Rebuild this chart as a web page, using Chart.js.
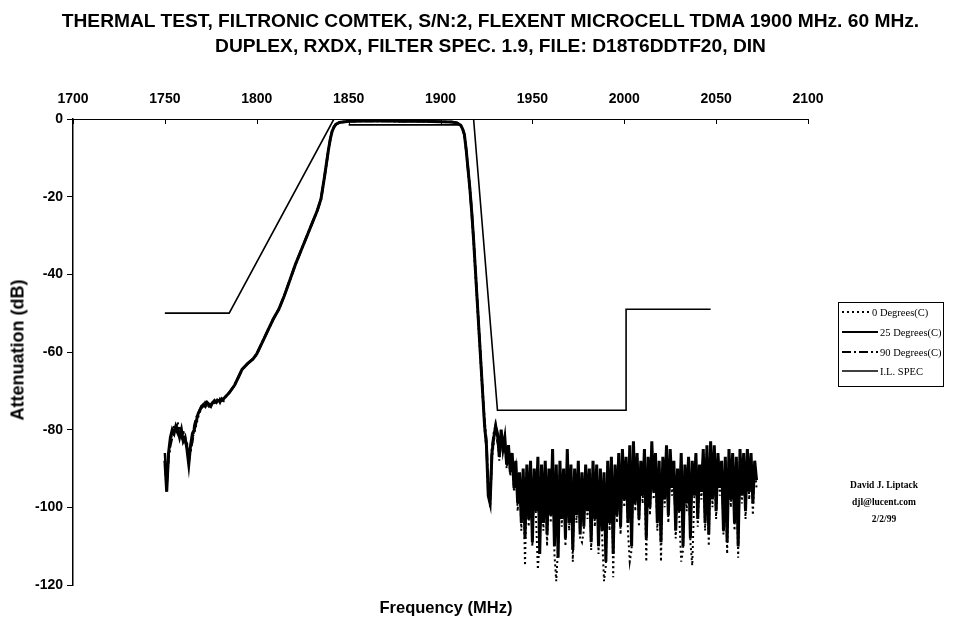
<!DOCTYPE html>
<html><head><meta charset="utf-8">
<script src="https://cdn.jsdelivr.net/npm/chart.js@4.4.0/dist/chart.umd.min.js"></script>
<style>
body{margin:0;background:#fff;}
#wrap{position:relative;width:975px;height:625px;overflow:hidden;}
canvas{position:absolute;left:0;top:0;}
.t{position:absolute;white-space:nowrap;color:#000;line-height:1;}
.title{left:0;width:981px;text-align:center;font:bold 19.2px "Liberation Sans",Arial,sans-serif;}
.axt{font:bold 17px "Liberation Sans",Arial,sans-serif;}
.leg{font:10.5px "Liberation Serif","Times New Roman",serif;}
.note{width:120px;text-align:center;font:bold 9.5px "Liberation Serif","Times New Roman",serif;}
</style></head>
<body>
<div id="wrap">
<canvas id="c" width="975" height="625"></canvas>
<div class="t title" style="top:10px">THERMAL TEST, FILTRONIC COMTEK, S/N:2, FLEXENT MICROCELL TDMA 1900 MHz. 60 MHz.</div>
<div class="t title" style="top:35px">DUPLEX, RXDX, FILTER SPEC. 1.9, FILE: D18T6DDTF20, DIN</div>
<div class="t axt" style="left:18px;top:350px;font-size:18px;transform:translate(-50%,-50%) rotate(-90deg);">Attenuation (dB)</div>
<div class="t axt" style="left:446px;top:607px;font-size:16.5px;transform:translate(-50%,-50%);">Frequency (MHz)</div>
<div class="t leg" style="left:872px;top:307px">0 Degrees(C)</div>
<div class="t leg" style="left:880px;top:327px">25 Degrees(C)</div>
<div class="t leg" style="left:880px;top:347px">90 Degrees(C)</div>
<div class="t leg" style="left:880px;top:366px">I.L. SPEC</div>
<div class="t note" style="left:824px;top:480px">David J. Liptack</div>
<div class="t note" style="left:824px;top:497px">djl@lucent.com</div>
<div class="t note" style="left:824px;top:514px">2/2/99</div>
</div>
<script>
// ---- data ----
const seriesNames = ["0 Degrees(C)", "25 Degrees(C)", "90 Degrees(C)", "I.L. SPEC"];

const freqSkirt = [1750,1751,1752,1753,1754,1755,1756,1757,1758,1759,1760,1761,1762,1763,1764,1765,1766,1767,1768,1769,1770,1771,1772,1773,1774,1775,1776,1777,1778,1779,1780,1781,1782,1783,1784,1785,
 1788,1790,1792,1795,1798,1800,1803,1806,1809,1812,1815,1818,1821,1824,1827,1830,1833,1835,1837,1839,1840,1841,1842,1843,1845,1848,1850,1860,1870,1880,1890,1900,1906,1909,1911,1912,1913,1914,1915,1916,1917,1918,1919,1920,1921,1922,1923,1924];

const skirt25 = [-88,-96,-86,-82,-80,-81,-79,-80,-82,-80,-83,-82,-85,-89,-84,-81,-80,-78,-76,-75,-74,-73.5,-74,-73,-73.5,-74,-73,-72.5,-73,-72.5,-72.5,-72.5,-72,-71.5,-71,-70.5,
 -68.5,-66.5,-64.5,-63,-61.8,-60.5,-57.5,-54.5,-51.5,-49,-45.5,-41.5,-37.5,-34,-30.5,-27,-23.5,-20.5,-14.5,-8,-5.2,-3.2,-2.1,-1.4,-0.9,-0.7,-0.6,-0.5,-0.5,-0.6,-0.6,-0.7,-0.8,-1.0,-1.6,-2.5,-4,-8,-13,-18,-24,-31,-39,-47,-55,-63,-71,-79];

const skirt0 = [-90,-95,-88,-83,-81,-79,-80,-78,-81,-82,-80,-84,-83,-87,-86,-82,-81,-79,-77,-75.5,-74.5,-74,-73.5,-74,-73,-74,-73.5,-73,-72.5,-73,-72,-72.5,-72,-71.5,-71,-70.5,
 -68.5,-66.5,-64.5,-63,-61.8,-60.5,-57.5,-54.5,-51.5,-49,-45.5,-41.5,-37.5,-34,-30.5,-27,-23.5,-20.5,-14.5,-8,-5.2,-3.2,-2.1,-1.4,-0.9,-0.7,-0.6,-0.5,-0.5,-0.6,-0.6,-0.7,-0.8,-1.0,-1.6,-2.5,-4,-8,-13,-18,-24,-31,-39,-47,-55,-63,-71,-80];

const skirt90 = [-86,-94,-87,-84,-82,-80,-80,-81,-79,-81,-81,-82,-84,-88,-85,-83,-79,-77,-76,-75,-74,-74,-73,-73.5,-74,-73.5,-73,-73,-72.5,-72,-73,-72,-72.5,-71.5,-71,-70.5,
 -68.5,-66.5,-64.5,-63,-61.8,-60.5,-57.5,-54.5,-51.5,-49,-45.5,-41.5,-37.5,-34,-30.5,-27,-23.5,-20.5,-14.5,-8,-5.2,-3.2,-2.1,-1.4,-0.9,-0.7,-0.6,-0.5,-0.5,-0.6,-0.6,-0.7,-0.8,-1.0,-1.6,-2.5,-4,-8,-13,-18,-24,-31,-39,-47,-55,-63,-71,-78];

const freqStop = [1925,1926,1927,1928,1929,1930,1931,1932,1933,1934,1935,1936,1937,1938,1939,1940,1941,1942,1943,1944,1945,1946,1947,1948,1949,
 1950,1951,1952,1953,1954,1955,1956,1957,1958,1959,1960,1961,1962,1963,1964,1965,1966,1967,1968,1969,1970,1971,1972,1973,1974,
 1975,1976,1977,1978,1979,1980,1981,1982,1983,1984,1985,1986,1987,1988,1989,1990,1991,1992,1993,1994,1995,1996,1997,1998,1999,
 2000,2001,2002,2003,2004,2005,2006,2007,2008,2009,2010,2011,2012,2013,2014,2015,2016,2017,2018,2019,2020,2021,2022,2023,2024,
 2025,2026,2027,2028,2029,2030,2031,2032,2033,2034,2035,2036,2037,2038,2039,2040,2041,2042,2043,2044,2045,2046,2047,2048,2049,
 2050,2051,2052,2053,2054,2055,2056,2057,2058,2059,2060,2061,2062,2063,2064,2065,2066,2067,2068,2069,2070,2071,2072];

const stop25 = [-84,-97,-99,-86,-82,-79,-81,-87,-80,-85,-82,-89,-84,-91,-86,-95,-88,-99,-91,-104,-90,-108,-89,-103,-88,
 -109,-90,-101,-87,-112,-89,-104,-88,-107,-90,-102,-85,-110,-89,-113,-88,-103,-90,-108,-85,-104,-89,-111,-90,-102,
 -88,-107,-91,-105,-89,-101,-90,-109,-88,-103,-89,-110,-90,-106,-91,-114,-88,-104,-87,-112,-89,-102,-86,-105,-85,
 -98,-87,-104,-84,-110,-83,-99,-86,-103,-88,-97,-85,-108,-87,-100,-83,-96,-86,-104,-88,-109,-87,-98,-84,-102,
 -85,-95,-88,-106,-90,-101,-86,-110,-89,-99,-87,-108,-88,-97,-86,-103,-89,-96,-85,-104,-84,-107,-83,-98,-84,
 -101,-86,-95,-88,-106,-87,-109,-85,-98,-86,-104,-87,-110,-85,-97,-86,-101,-85,-96,-86,-99,-88,-93];

const stop0 = [-85,-95,-100,-88,-83,-80,-82,-88,-81,-86,-83,-90,-85,-92,-87,-96,-89,-101,-92,-106,-91,-115,-90,-105,-89,
 -110,-91,-103,-116,-108,-90,-106,-89,-110,-91,-104,-86,-112,-119,-110,-89,-105,-91,-110,-86,-106,-90,-114,-91,-104,
 -89,-108,-109,-106,-90,-103,-91,-111,-89,-105,-90,-112,-91,-108,-119,-115,-89,-106,-88,-118,-90,-104,-87,-107,-86,
 -100,-88,-106,-114,-111,-84,-101,-87,-105,-89,-99,-86,-114,-88,-102,-84,-98,-87,-106,-89,-114,-88,-100,-85,-104,
 -86,-97,-89,-108,-91,-103,-114,-111,-90,-101,-88,-109,-115,-99,-87,-105,-90,-98,-86,-106,-85,-110,-84,-100,-85,
 -103,-87,-97,-89,-107,-88,-112,-86,-100,-87,-106,-88,-113,-86,-99,-87,-103,-86,-98,-87,-102,-89,-95];

const stop90 = [-83,-96,-98,-85,-81,-79,-83,-85,-82,-84,-85,-87,-86,-89,-88,-93,-90,-97,-94,-101,-93,-104,-92,-100,-91,
 -106,-93,-99,-90,-108,-92,-101,-91,-104,-93,-100,-88,-107,-92,-109,-91,-101,-93,-105,-88,-102,-92,-108,-93,-100,
 -91,-104,-94,-102,-92,-99,-93,-106,-91,-101,-92,-107,-93,-103,-94,-110,-91,-102,-90,-109,-92,-100,-89,-102,-88,
 -96,-90,-101,-87,-106,-86,-97,-89,-100,-91,-95,-88,-104,-90,-98,-86,-94,-89,-101,-91,-105,-90,-96,-87,-99,
 -88,-93,-91,-103,-93,-98,-89,-106,-92,-97,-90,-104,-91,-95,-89,-100,-92,-94,-88,-101,-87,-103,-86,-96,-87,
 -98,-89,-93,-91,-102,-90,-105,-88,-96,-89,-101,-90,-106,-88,-95,-89,-98,-88,-94,-89,-96,-90,-92];

// spec mask and insertion-loss spec
const maskFreq = [1750,1785,1842,1918,1931,2001,2001,2047];
const maskAtt  = [-50,-50,0,0,-75,-75,-49,-49];
const ilFreq = [1850,1910];
const ilAtt  = [-1.5,-1.5];

// ---- build ----
const pts = (xs, ys) => xs.map((x, i) => ({x: x, y: ys[i]}));
const d0  = pts(freqSkirt.concat(freqStop), skirt0.concat(stop0));
const d25 = pts(freqSkirt.concat(freqStop), skirt25.concat(stop25));
const d90 = pts(freqSkirt.concat(freqStop), skirt90.concat(stop90));

const styles = [
  {borderDash:[2,3], borderWidth:2},
  {borderDash:[], borderWidth:3},
  {borderDash:[9,3,2,3], borderWidth:2.5},
  {borderDash:[], borderWidth:1.6}
];

const extras = {
  id: 'extras',
  afterDraw(chart) {
    const ctx = chart.ctx, xs = chart.scales.x, ys = chart.scales.y;
    ctx.save();
    ctx.strokeStyle = '#000';
    ctx.lineWidth = 1;
    xs.ticks.forEach(t => {
      const px = Math.round(xs.getPixelForValue(t.value)) + 0.5;
      ctx.beginPath(); ctx.moveTo(px, ys.top); ctx.lineTo(px, ys.top + 5); ctx.stroke();
    });
    // legend box
    ctx.lineWidth = 1;
    ctx.strokeRect(838.5, 302.5, 105, 84);
    const rowY = [312, 332, 352, 371];
    const ends = [869, 878, 878, 878];
    styles.forEach((s, i) => {
      ctx.beginPath();
      ctx.setLineDash(s.borderDash);
      ctx.lineWidth = Math.min(s.borderWidth, 2);
      ctx.moveTo(842, rowY[i]); ctx.lineTo(ends[i], rowY[i]);
      ctx.stroke();
    });
    ctx.restore();
  }
};

const common = {pointRadius:0, tension:0, borderColor:'#000', fill:false, spanGaps:false};

new Chart(document.getElementById('c'), {
  type: 'line',
  data: {
    datasets: [
      Object.assign({label: seriesNames[0], data: d0}, common, styles[0]),
      Object.assign({label: seriesNames[1], data: d25}, common, styles[1]),
      Object.assign({label: seriesNames[2], data: d90}, common, styles[2]),
      Object.assign({label: seriesNames[3], data: pts(maskFreq, maskAtt)}, common, styles[3]),
      Object.assign({label: seriesNames[3] + ' IL', data: pts(ilFreq, ilAtt)}, common, styles[3])
    ]
  },
  options: {
    responsive: false,
    animation: false,
    layout: {padding: {left: 0, top: 0, right: 167, bottom: 40}},
    plugins: {legend: {display: false}, tooltip: {enabled: false}, title: {display: false}},
    scales: {
      x: {
        type: 'linear', position: 'top', min: 1700, max: 2100,
        afterFit: s => { s.height = 119; },
        grid: {drawOnChartArea: false, drawTicks: false},
        border: {display: true, color: '#000', width: 1},
        ticks: {stepSize: 50, padding: 11, color: '#000', maxRotation: 0,
                callback: v => String(v),
                font: {family: '"Liberation Sans", Arial, sans-serif', size: 14, weight: 'bold'}}
      },
      y: {
        type: 'linear', position: 'left', min: -120, max: 0,
        afterFit: s => { s.width = 73; },
        grid: {drawOnChartArea: false, drawTicks: true, tickLength: 6, color: '#000'},
        border: {display: true, color: '#000', width: 1.5},
        ticks: {stepSize: 20, padding: 4, color: '#000',
                font: {family: '"Liberation Sans", Arial, sans-serif', size: 14, weight: 'bold'}}
      }
    }
  },
  plugins: [extras]
});
</script>
</body></html>
